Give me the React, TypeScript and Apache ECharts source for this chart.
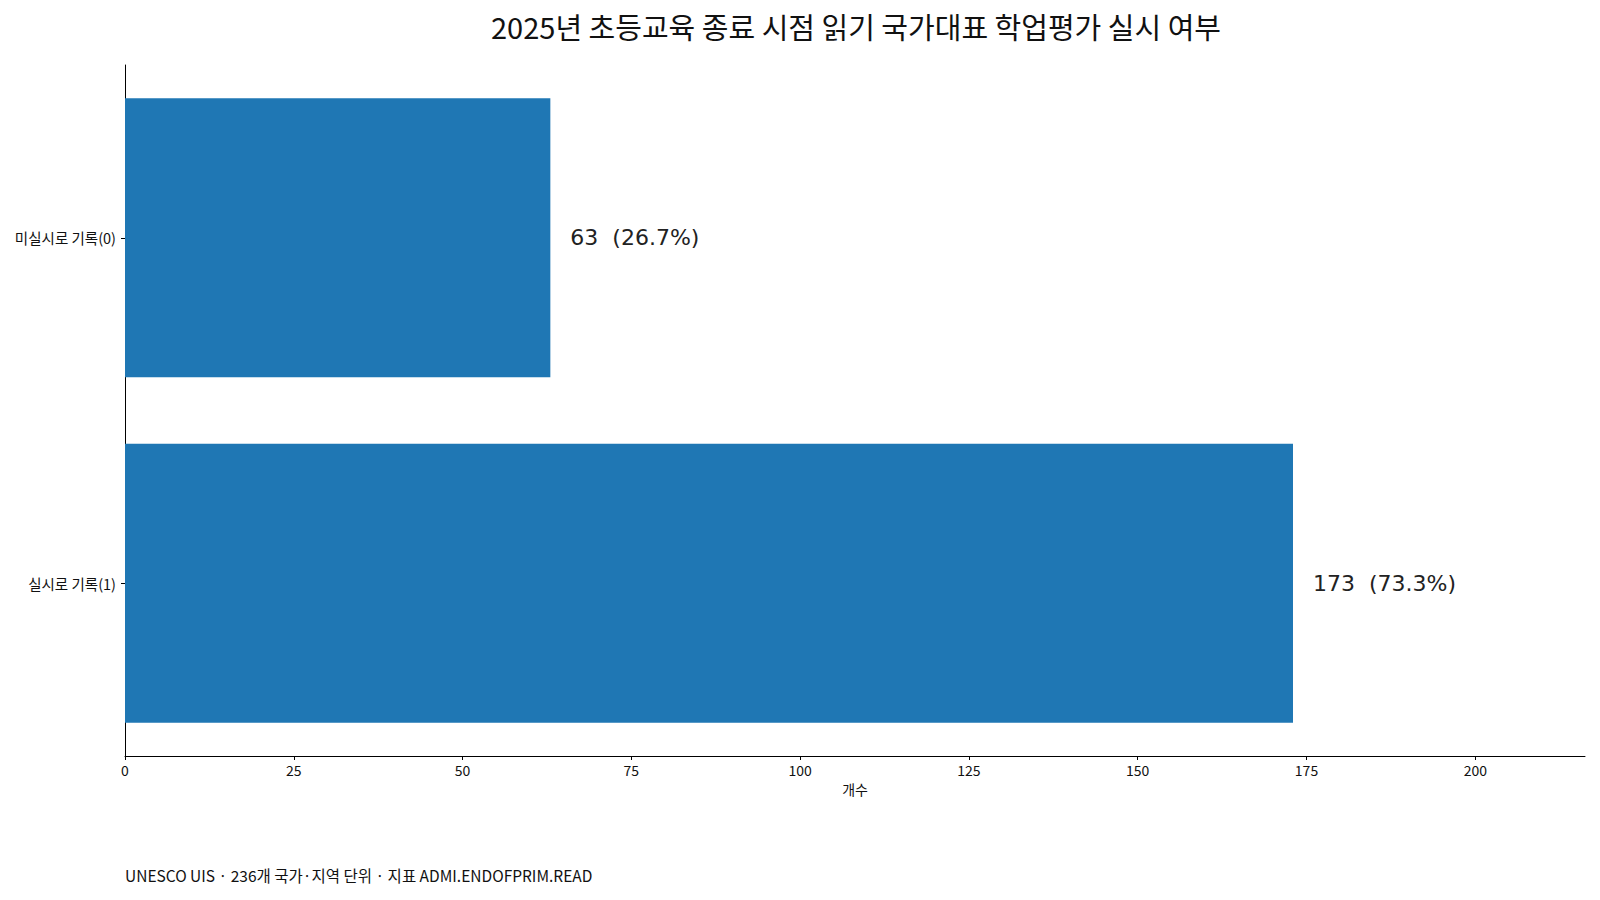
import { useEffect, useRef } from "react";
import * as echarts from "echarts";

// 데이터 (아래에서 위 순서: ECharts 범주축은 첫 항목이 아래)
const categories = ["실시로 기록(1)", "미실시로 기록(0)"];
const counts = [173, 63];
const total = 236;
const xTicks = [0, 25, 50, 75, 100, 125, 150, 175, 200];

const FONT = '"Noto Sans CJK KR", "Noto Sans", sans-serif';
const LABEL_FONT = '"DejaVu Sans", sans-serif';

export default function App() {
  const chartRef = useRef<HTMLDivElement>(null);

  useEffect(() => {
    document.body.style.margin = "0";
    if (!chartRef.current) return;
    const chart = echarts.init(chartRef.current, undefined, { renderer: "svg" });

    chart.setOption({
      animation: false,
      textStyle: { fontFamily: FONT },
      title: {
        text: "2025년 초등교육 종료 시점 읽기 국가대표 학업평가 실시 여부",
        left: 851,
        textAlign: "center",
        top: 6,
        textStyle: { fontFamily: FONT, fontSize: 29, fontWeight: "normal", color: "#111" },
      },
      grid: { left: 125, right: 15, top: 65, bottom: 144 },
      xAxis: {
        type: "value",
        min: 0,
        max: Math.max(...counts) * 1.25,
        interval: 25,
        name: "개수",
        nameLocation: "middle",
        nameGap: 25,
        nameTextStyle: { fontFamily: FONT, fontSize: 14, color: "#111" },
        axisLine: { show: true, lineStyle: { color: "#000", width: 1 } },
        axisTick: { show: true, length: 4, customValues: xTicks, lineStyle: { color: "#000" } },
        axisLabel: {
          fontFamily: FONT,
          fontSize: 14,
          color: "#111",
          margin: 7,
          customValues: xTicks,
        },
        splitLine: { show: false },
      },
      yAxis: {
        type: "category",
        data: categories,
        axisLine: { show: true, lineStyle: { color: "#000", width: 1 } },
        axisTick: { show: true, length: 4, alignWithLabel: true, lineStyle: { color: "#000" } },
        axisLabel: { fontFamily: FONT, fontSize: 14.5, color: "#111", margin: 9 },
      },
      series: [
        {
          type: "bar",
          data: counts,
          barWidth: 279,
          itemStyle: { color: "#1f77b4" },
          label: {
            show: true,
            position: "right",
            distance: 20,
            fontFamily: LABEL_FONT,
            fontSize: 22,
            color: "#222",
            formatter: (p: { value: number }) =>
              `${p.value}  (${((p.value / total) * 100).toFixed(1)}%)`,
          },
        },
      ],
      graphic: [
        {
          type: "text",
          left: 125,
          top: 867,
          style: {
            text: "UNESCO UIS · 236개 국가·지역 단위 · 지표 ADMI.ENDOFPRIM.READ",
            fontFamily: FONT,
            fontSize: 15.5,
            fill: "#111",
          },
        },
      ],
    });

    return () => chart.dispose();
  }, []);

  return <div ref={chartRef} style={{ width: 1600, height: 900 }} />;
}
